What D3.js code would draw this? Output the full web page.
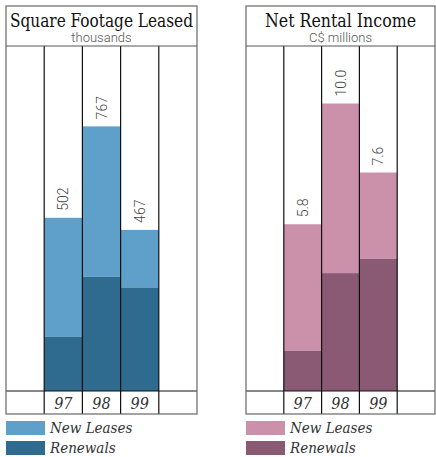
<!DOCTYPE html>
<html>
<head>
<meta charset="utf-8">
<script src="https://cdn.jsdelivr.net/npm/d3@7"></script>
<style>
  body { margin: 0; background: #fff; }
  svg { display: block; }
  .serif { font-family: 'DejaVu Serif Condensed', 'DejaVu Serif', serif; font-stretch: condensed; }
  .sans { font-family: Roboto, 'Liberation Sans', sans-serif; font-weight: 300; }
</style>
</head>
<body>
<div id="chart"></div>
<script>
// data
const years = ['97', '98', '99'];
const sqftRenewals = [157, 331, 300];
const sqftNew = [345, 436, 167];
const sqftTotals = ['502', '767', '467'];
const incomeRenewals = [1.4, 4.1, 4.6];
const incomeNew = [4.4, 5.9, 3.0];
const incomeTotals = ['5.8', '10.0', '7.6'];
const legendLabels = ['New Leases', 'Renewals'];

const svg = d3.select('#chart').append('svg')
  .attr('width', 436)
  .attr('height', 457);

function panel(opts) {
  const left = opts.left, right = opts.right;
  const top = 6, titleBottom = 46, plotBottom = 391, rowBottom = 414;
  const cell = (right - left) / 5;
  const g = svg.append('g');

  const x = d3.scaleBand()
    .domain(years)
    .range([left + cell, right - cell]);
  const y = d3.scaleLinear()
    .domain([0, opts.max])
    .range([plotBottom, titleBottom]);

  // stacked bars
  const stack = years.map((yr, i) => ({
    yr: yr, ren: opts.renewals[i], nw: opts.news[i], label: opts.totals[i]
  }));
  g.selectAll('.new').data(stack).enter().append('rect')
    .attr('x', d => x(d.yr))
    .attr('width', x.bandwidth())
    .attr('y', d => y(d.ren + d.nw))
    .attr('height', d => y(d.ren) - y(d.ren + d.nw))
    .attr('fill', opts.light);
  g.selectAll('.ren').data(stack).enter().append('rect')
    .attr('x', d => x(d.yr))
    .attr('width', x.bandwidth())
    .attr('y', d => y(d.ren))
    .attr('height', d => plotBottom - y(d.ren))
    .attr('fill', opts.dark);

  // value labels, rotated
  g.selectAll('.val').data(stack).enter().append('text')
    .attr('class', 'sans')
    .attr('transform', d => 'translate(' + (x(d.yr) + x.bandwidth() / 2 + 5) + ',' + (y(d.ren + d.nw) - 7) + ') rotate(-90)')
    .attr('font-size', 14)
    .attr('fill', '#444')
    .text(d => d.label);

  // grid lines
  const cols = d3.range(1, 5).map(i => left + i * cell);
  g.selectAll('.col').data(cols).enter().append('line')
    .attr('x1', d => d).attr('x2', d => d)
    .attr('y1', titleBottom).attr('y2', rowBottom)
    .attr('stroke', '#111').attr('stroke-width', 1.2);
  g.append('line')
    .attr('x1', left).attr('x2', right)
    .attr('y1', plotBottom).attr('y2', plotBottom)
    .attr('stroke', '#111').attr('stroke-width', 1.2);
  g.append('line')
    .attr('x1', left).attr('x2', right)
    .attr('y1', titleBottom).attr('y2', titleBottom)
    .attr('stroke', '#555').attr('stroke-width', 1);
  g.append('rect')
    .attr('x', left).attr('y', top)
    .attr('width', right - left).attr('height', rowBottom - top)
    .attr('fill', 'none').attr('stroke', '#666').attr('stroke-width', 1.2);

  // x labels
  g.selectAll('.xl').data(years).enter().append('text')
    .attr('class', 'serif')
    .attr('x', d => x(d) + x.bandwidth() / 2)
    .attr('y', 409)
    .attr('text-anchor', 'middle')
    .attr('font-style', 'italic')
    .attr('font-size', 16)
    .attr('fill', '#333')
    .text(d => d);

  // titles
  g.append('text')
    .attr('class', 'serif')
    .attr('x', (left + right) / 2).attr('y', 27)
    .attr('text-anchor', 'middle')
    .attr('font-size', 19)
    .attr('textLength', opts.titleWidth)
    .attr('lengthAdjust', 'spacingAndGlyphs')
    .attr('fill', '#111')
    .text(opts.title);
  g.append('text')
    .attr('class', 'sans')
    .attr('x', (left + right) / 2).attr('y', 42)
    .attr('text-anchor', 'middle')
    .attr('font-size', 13)
    .attr('fill', '#555')
    .text(opts.subtitle);

  // legend
  const leg = g.selectAll('.leg').data(legendLabels).enter().append('g')
    .attr('transform', (d, i) => 'translate(' + left + ',' + (421 + i * 20) + ')');
  leg.append('rect')
    .attr('width', 39).attr('height', 14)
    .attr('fill', (d, i) => i === 0 ? opts.light : opts.dark);
  leg.append('text')
    .attr('class', 'serif')
    .attr('x', 44).attr('y', 12)
    .attr('font-style', 'italic')
    .attr('font-size', 15)
    .attr('fill', '#333')
    .text(d => d);
}

panel({
  left: 6, right: 197, max: 1000,
  renewals: sqftRenewals, news: sqftNew, totals: sqftTotals,
  light: '#5fa0cb', dark: '#2f6a8f',
  title: 'Square Footage Leased', subtitle: 'thousands', titleWidth: 183
});
panel({
  left: 246, right: 435, max: 12,
  renewals: incomeRenewals, news: incomeNew, totals: incomeTotals,
  light: '#cc91aa', dark: '#8a5a74',
  title: 'Net Rental Income', subtitle: 'C$ millions', titleWidth: 151
});
</script>
</body>
</html>
